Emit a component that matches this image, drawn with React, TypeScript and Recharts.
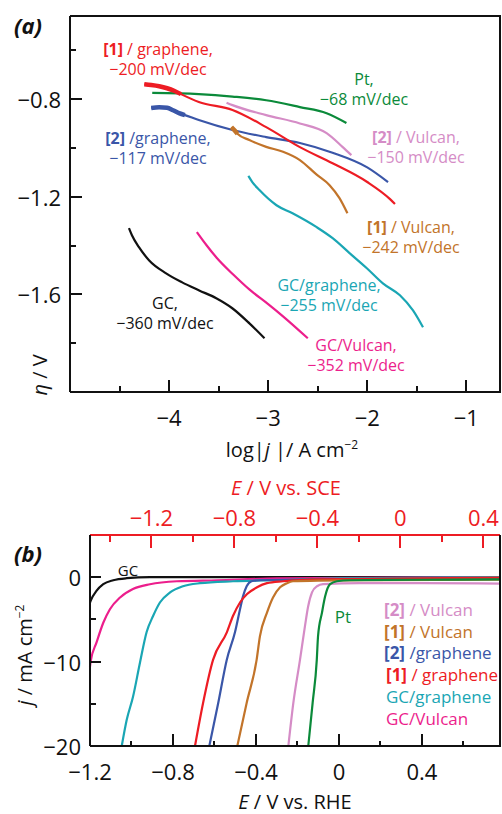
import React from 'react';
import { LineChart, Line, XAxis, YAxis } from 'recharts';

// (a) Tafel plots: [log|j|, eta]
const tafelGraphene1 = [
  [-4.25, -0.74], [-4.18, -0.743], [-4.1, -0.748], [-4.02, -0.756], [-3.95, -0.766], [-3.88, -0.78],
  [-3.7, -0.812], [-3.36, -0.845], [-3.02, -0.915], [-2.68, -0.997], [-2.35, -1.063], [-2.0, -1.14],
  [-1.77, -1.21], [-1.72, -1.23],
];
const tafelPt = [
  [-4.17, -0.775], [-3.7, -0.78], [-3.36, -0.79], [-3.02, -0.805], [-2.68, -0.833], [-2.41, -0.858],
  [-2.21, -0.898],
];
const tafelGraphene2 = [
  [-4.18, -0.837], [-4.1, -0.834], [-4.02, -0.836], [-3.96, -0.846], [-3.9, -0.858], [-3.84, -0.866],
  [-3.7, -0.886], [-3.36, -0.927], [-3.02, -0.956], [-2.68, -0.98], [-2.35, -1.02], [-2.0, -1.08],
  [-1.79, -1.14],
];
const tafelVulcan2 = [
  [-3.42, -0.815], [-3.36, -0.825], [-3.02, -0.866], [-2.68, -0.9], [-2.41, -0.94], [-2.25, -0.996],
  [-2.16, -1.03],
];
const tafelVulcan1 = [
  [-3.37, -0.915], [-3.34, -0.928], [-3.31, -0.942], [-3.19, -0.968], [-3.02, -0.996],
  [-2.85, -1.016], [-2.68, -1.05], [-2.51, -1.11], [-2.38, -1.153], [-2.28, -1.206], [-2.2, -1.268],
];
const tafelGCGraphene = [
  [-3.2, -1.115], [-3.16, -1.14], [-3.088, -1.173], [-2.916, -1.235], [-2.754, -1.268], [-2.51, -1.325],
  [-2.349, -1.37], [-2.176, -1.432], [-2.004, -1.493], [-1.842, -1.555], [-1.67, -1.604], [-1.538, -1.666],
  [-1.437, -1.735],
];
const tafelGC = [
  [-4.405, -1.329], [-4.375, -1.358], [-4.304, -1.407], [-4.203, -1.46], [-4.03, -1.514], [-3.868, -1.551],
  [-3.696, -1.584], [-3.524, -1.616], [-3.362, -1.657], [-3.189, -1.719], [-3.037, -1.78],
];
const tafelGCVulcan = [
  [-3.72, -1.345], [-3.62, -1.4], [-3.52, -1.45], [-3.35, -1.52], [-3.19, -1.58], [-3.0, -1.64],
  [-2.85, -1.69], [-2.6, -1.78],
];

// (b) polarization curves: [E vs RHE, j]
const lsvGC = [
  [-1.2, -3.0], [-1.197, -2.8], [-1.168, -1.6], [-1.136, -0.83], [-1.088, -0.36], [-1.023, -0.12],
  [-0.911, 0], [0.776, 0],
];
const lsvGCVulcan = [
  [-1.2, -10.6], [-1.197, -10], [-1.168, -7.7], [-1.136, -5.4], [-1.104, -3.8], [-1.055, -2.4],
  [-0.993, -1.4], [-0.911, -0.83], [-0.781, -0.48], [-0.588, -0.36], [-0.3, -0.15], [0.776, 0],
];
const lsvGCGraphene = [
  [-1.047, -20], [-1.023, -16.9], [-0.993, -14.2], [-0.959, -10.1], [-0.927, -6.5], [-0.896, -4.6],
  [-0.863, -3.0], [-0.814, -1.8], [-0.752, -1.07], [-0.67, -0.71], [-0.511, -0.48], [-0.3, -0.35],
  [0, -0.15], [0.776, 0],
];
const lsvGraphene1 = [
  [-0.694, -20], [-0.655, -14.9], [-0.607, -9.8], [-0.54, -6.5], [-0.511, -4.6], [-0.477, -3.0],
  [-0.443, -2.0], [-0.395, -1.2], [-0.347, -0.71], [-0.27, -0.48], [-0.1, -0.25], [0.776, -0.05],
];
const lsvGraphene2 = [
  [-0.625, -20], [-0.582, -14.9], [-0.541, -9.8], [-0.501, -6.5], [-0.477, -3.8], [-0.463, -2.3],
  [-0.445, -1.07], [-0.421, -0.48], [-0.381, -0.36], [-0.1, -0.25], [0.776, -0.1],
];
const lsvVulcan1 = [
  [-0.49, -20], [-0.445, -14.9], [-0.397, -9.8], [-0.381, -7.0], [-0.347, -4.2], [-0.318, -2.4],
  [-0.284, -1.2], [-0.251, -0.71], [-0.222, -0.48], [-0.1, -0.4], [0.2, -0.35], [0.776, -0.3],
];
const lsvVulcan2 = [
  [-0.244, -20], [-0.22, -14.9], [-0.188, -9.8], [-0.164, -5.8], [-0.149, -3.5], [-0.13, -1.8],
  [-0.106, -1.07], [-0.077, -0.83], [0.1, -0.7], [0.4, -0.7], [0.776, -0.75],
];
const lsvPt = [
  [-0.148, -20], [-0.127, -14.9], [-0.107, -9.8], [-0.101, -7.0], [-0.082, -4.2], [-0.067, -2.3],
  [-0.043, -0.83], [-0.01, -0.48], [0.053, -0.36], [0.4, -0.3], [0.776, -0.25],
];

const tafelXTicks = [-4.5, -4, -3.5, -3, -2.5, -2, -1.5, -1];
const tafelYTicks = [-0.6, -0.8, -1.0, -1.2, -1.4, -1.6, -1.8];
const rheTicks = [-1.0, -0.8, -0.6, -0.4, -0.2, 0, 0.2, 0.4, 0.6];
const rheLabels = [-1.2, -1.0, -0.8, -0.6, -0.4, -0.2, 0, 0.2, 0.4, 0.6];
const sceTicks = [-1.4, -1.2, -1.0, -0.8, -0.6, -0.4, -0.2, 0, 0.2, 0.4];
const jTicks = [0, -5, -10, -15, -20];
const rheToSce = 0.296;

const tafelX: [number, number] = [-5, -0.66];
const tafelY: [number, number] = [-2.0, -0.46];
const lsvX: [number, number] = [-1.2, 0.776];
const sceX: [number, number] = [lsvX[0] - rheToSce, lsvX[1] - rheToSce];
const lsvY: [number, number] = [-20, 5];

const C = {
  red: '#ed1c24',
  green: '#0b8a3a',
  blue: '#3a56a8',
  lilac: '#d58cc6',
  orange: '#c2742a',
  cyan: '#1aa6b4',
  black: '#111',
  magenta: '#ec1e8c',
};
const FONT = '"Open Sans", sans-serif';

const pts = (a: number[][]) => a.map(([x, y]) => ({ x, y }));
const isMajor = (v: number, step: number) => Math.abs(v / step - Math.round(v / step)) < 1e-6;
const fmt = (v: number) => {
  const r = Math.round(v * 100) / 100;
  if (r === 0) return '0';
  return (r < 0 ? '\u2212' : '') + String(Math.abs(r));
};

// tick labels only
const bottomLabel = (step: number, color: string) => (props: any) => {
  const { x, y, payload } = props;
  if (!isMajor(payload.value, step)) return <g />;
  return (
    <text x={x} y={y + 25} textAnchor="middle" dominantBaseline="central" fontSize={22} fontFamily={FONT} fill={color}>
      {fmt(payload.value)}
    </text>
  );
};
const topLabel = (step: number, color: string) => (props: any) => {
  const { x, y, payload } = props;
  if (!isMajor(payload.value, step)) return <g />;
  return (
    <text x={x} y={y - 18} textAnchor="middle" dominantBaseline="central" fontSize={22} fontFamily={FONT} fill={color}>
      {fmt(payload.value)}
    </text>
  );
};
const leftLabel = (step: number, color: string) => (props: any) => {
  const { x, y, payload } = props;
  if (!isMajor(payload.value, step)) return <g />;
  return (
    <text x={x - 9} y={y} textAnchor="end" dominantBaseline="central" fontSize={22} fontFamily={FONT} fill={color}>
      {fmt(payload.value)}
    </text>
  );
};

const tafelBottom = bottomLabel(1, '#111');
const tafelLeft = leftLabel(0.4, '#111');
const lsvBottom = bottomLabel(0.4, '#111');
const lsvTop = topLabel(0.4, C.red);
const lsvLeft = leftLabel(10, '#111');
const blackAxis = { stroke: '#111', strokeWidth: 2 };
const redAxis = { stroke: C.red, strokeWidth: 2 };

// plot boxes on the page (chart size minus axes and margins)
const A = { left: 70, right: 500, top: 16, bottom: 392 };
const Bx = { left: 90, right: 500, top: 535, bottom: 746 };
const lin = (d: [number, number], p0: number, p1: number) => (v: number) => p0 + ((v - d[0]) / (d[1] - d[0])) * (p1 - p0);
const ax = lin(tafelX, A.left, A.right);
const ay = lin(tafelY, A.bottom, A.top);
const bx = lin(lsvX, Bx.left, Bx.right);
const sx = lin(sceX, Bx.left, Bx.right);
const by = lin(lsvY, Bx.bottom, Bx.top);

// inward tick marks and the frame sides, as thin boxes over the charts
const Bar = ({ l, t, w, h, c = '#111' }: { l: number; t: number; w: number; h: number; c?: string }) => (
  <div style={{ position: 'absolute', left: Math.round(l), top: Math.round(t), width: w, height: h, background: c, pointerEvents: 'none' }} />
);

const Note = ({ cx, cy, color, lines, size = 16 }: { cx: number; cy: number; color: string; lines: React.ReactNode[]; size?: number }) => (
  <div
    style={{
      position: 'absolute', left: cx - 110, top: cy - 10, width: 220, textAlign: 'center',
      color, fontSize: size, lineHeight: '20px', fontFamily: FONT, whiteSpace: 'nowrap', pointerEvents: 'none',
    }}
  >
    {lines.map((l, i) => <div key={i}>{l}</div>)}
  </div>
);

const Label = ({ x, y, color, children, size = 17, anchor = 'left' }: any) => (
  <div
    style={{
      position: 'absolute', left: anchor === 'left' ? x : x - 150, top: y - 11, width: anchor === 'left' ? 'auto' : 300,
      textAlign: anchor === 'left' ? 'left' : 'center', color, fontSize: size, lineHeight: '22px',
      fontFamily: FONT, whiteSpace: 'nowrap', pointerEvents: 'none',
    }}
  >
    {children}
  </div>
);

const Rot = ({ cx, cy, children, size = 20 }: any) => (
  <div
    style={{
      position: 'absolute', left: cx - 100, top: cy - 14, width: 200, height: 28, lineHeight: '28px',
      textAlign: 'center', transform: 'rotate(-90deg)', fontSize: size, fontFamily: FONT, color: '#111',
      whiteSpace: 'nowrap', pointerEvents: 'none',
    }}
  >
    {children}
  </div>
);

const B = ({ children }: any) => <b>{children}</b>;
const sup = (s: string) => <span style={{ fontSize: '0.6em', verticalAlign: '0.7em' }}>{s}</span>;

// noisy starts of some Tafel curves are drawn thicker
const tafelSeries = [
  { data: pts(tafelPt), color: C.green, noisy: 0 },
  { data: pts(tafelVulcan2), color: C.lilac, noisy: 0 },
  { data: pts(tafelGraphene2), color: C.blue, noisy: 6 },
  { data: pts(tafelVulcan1), color: C.orange, noisy: 3 },
  { data: pts(tafelGraphene1), color: C.red, noisy: 6 },
  { data: pts(tafelGCGraphene), color: C.cyan, noisy: 0 },
  { data: pts(tafelGC), color: C.black, noisy: 0 },
  { data: pts(tafelGCVulcan), color: C.magenta, noisy: 0 },
];
const tafelNoisy = tafelSeries.filter((s) => s.noisy > 0).map((s) => ({ color: s.color, data: s.data.slice(0, s.noisy) }));

const lsvSeries = [
  { data: pts(lsvGC), color: C.black },
  { data: pts(lsvGCVulcan), color: C.magenta },
  { data: pts(lsvGCGraphene), color: C.cyan },
  { data: pts(lsvGraphene2), color: C.blue },
  { data: pts(lsvGraphene1), color: C.red },
  { data: pts(lsvVulcan1), color: C.orange },
  { data: pts(lsvVulcan2), color: C.lilac },
  { data: pts(lsvPt), color: C.green },
];
// Pt curve on the SCE scale, not drawn: it gives the top axis its ticks
const lsvPtSce = lsvPt.map(([x, y]) => ({ x: x - rheToSce, y }));

export default function App() {
  return (
    <div style={{ position: 'absolute', left: 0, top: 0, width: 502, height: 814, background: '#fff' }}>
      <div style={{ position: 'absolute', left: 0, top: 0 }}>
        <LineChart width={502} height={460} margin={{ top: 16, right: 2, left: 0, bottom: 0 }}>
          <XAxis
            xAxisId="b" type="number" dataKey="x" domain={tafelX}
            ticks={tafelXTicks} interval={0} tickSize={0} tickMargin={0} height={68}
            tick={tafelBottom} tickLine={false} axisLine={blackAxis}
          />
          <YAxis
            yAxisId="l" type="number" domain={tafelY}
            ticks={tafelYTicks} interval={0} tickSize={0} tickMargin={0} width={70}
            tick={tafelLeft} tickLine={false} axisLine={blackAxis}
          />
          {tafelSeries.map((s, i) => (
            <Line
              key={i} xAxisId="b" yAxisId="l" data={s.data} dataKey="y" type="monotone"
              stroke={s.color} strokeWidth={2.2} dot={false} isAnimationActive={false}
            />
          ))}
          {tafelNoisy.map((s, i) => (
            <Line
              key={'n' + i} xAxisId="b" yAxisId="l" data={s.data} dataKey="y" type="monotone"
              stroke={s.color} strokeWidth={4.5} dot={false} isAnimationActive={false}
            />
          ))}
        </LineChart>
      </div>

      <div style={{ position: 'absolute', left: 0, top: 460 }}>
        <LineChart width={502} height={354} margin={{ top: 0, right: 2, left: 0, bottom: 0 }}>
          <XAxis
            xAxisId="b" type="number" dataKey="x" domain={lsvX}
            ticks={rheLabels} interval={0} tickSize={0} tickMargin={0} height={68}
            tick={lsvBottom} tickLine={false} axisLine={blackAxis}
          />
          <XAxis
            xAxisId="t" orientation="top" type="number" dataKey="x" domain={sceX}
            ticks={sceTicks} interval={0} tickSize={0} tickMargin={0} height={75}
            tick={lsvTop} tickLine={false} axisLine={redAxis}
          />
          <YAxis
            yAxisId="l" type="number" domain={lsvY}
            ticks={jTicks} interval={0} tickSize={0} tickMargin={0} width={90}
            tick={lsvLeft} tickLine={false} axisLine={blackAxis}
          />
          <Line xAxisId="t" yAxisId="l" data={lsvPtSce} dataKey="y" stroke="none" dot={false} isAnimationActive={false} />
          {lsvSeries.map((s, i) => (
            <Line
              key={i} xAxisId="b" yAxisId="l" data={s.data} dataKey="y" type="monotone"
              stroke={s.color} strokeWidth={2.2} dot={false} isAnimationActive={false}
            />
          ))}
        </LineChart>
      </div>

      {/* frames and inward ticks */}
      <Bar l={A.left} t={A.top - 1} w={A.right - A.left + 1} h={2} />
      <Bar l={A.right - 1} t={A.top - 1} w={2} h={A.bottom - A.top + 2} />
      {tafelXTicks.map((t) => {
        const len = isMajor(t, 1) ? 12 : 6;
        return <Bar key={'ax' + t} l={ax(t) - 1} t={A.bottom - len} w={2} h={len} />;
      })}
      {tafelYTicks.map((t) => {
        const len = isMajor(t, 0.4) ? 12 : 6;
        return <Bar key={'ay' + t} l={A.left} t={ay(t) - 1} w={len} h={2} />;
      })}
      <Bar l={Bx.right - 1} t={Bx.top} w={2} h={Bx.bottom - Bx.top + 1} />
      {rheTicks.map((t) => {
        const len = isMajor(t, 0.4) ? 12 : 5;
        return <Bar key={'bx' + t} l={bx(t) - 1} t={Bx.bottom - len} w={2} h={len} />;
      })}
      {sceTicks.map((t) => {
        const len = isMajor(t, 0.4) ? 13 : 7;
        return <Bar key={'sx' + t} l={sx(t) - 1} t={Bx.top} w={2} h={len} c={C.red} />;
      })}
      {jTicks.filter((t) => t !== lsvY[0]).map((t) => {
        const len = isMajor(t, 10) ? 11 : 6;
        return <Bar key={'by' + t} l={Bx.left} t={by(t) - 1} w={len} h={2} />;
      })}

      {/* panel (a) text */}
      <div style={{ position: 'absolute', left: 14, top: 10, fontSize: 22, fontWeight: 'bold', fontStyle: 'italic', fontFamily: FONT, color: '#111' }}>(a)</div>
      <Note cx={158} cy={49} color={C.red} lines={[<><B>[1]</B> / graphene,</>, '\u2212200 mV/dec']} />
      <Note cx={364} cy={79} color={C.green} lines={['Pt,', '\u221268 mV/dec']} />
      <Note cx={158} cy={138} color={C.blue} lines={[<><B>[2]</B> /graphene,</>, '\u2212117 mV/dec']} />
      <Note cx={416} cy={137} color={C.lilac} lines={[<><B>[2]</B> / Vulcan,</>, '\u2212150 mV/dec']} />
      <Note cx={411} cy={227} color={C.orange} lines={[<><B>[1]</B> / Vulcan,</>, '\u2212242 mV/dec']} />
      <Note cx={329} cy={285} color={C.cyan} lines={['GC/graphene,', '\u2212255 mV/dec']} />
      <Note cx={165} cy={303} color={C.black} lines={['GC,', '\u2212360 mV/dec']} />
      <Note cx={356} cy={345} color={C.magenta} lines={['GC/Vulcan,', '\u2212352 mV/dec']} />
      <Rot cx={40} cy={375}><i>η</i> / V</Rot>
      <Label x={292} y={445} color="#111" size={20} anchor="center">log|<i>j</i> |/ A cm{sup('\u22122')}</Label>

      {/* panel (b) text */}
      <Label x={286} y={488} color={C.red} size={20} anchor="center"><i>E</i> / V vs. SCE</Label>
      <div style={{ position: 'absolute', left: 14, top: 538, fontSize: 22, fontWeight: 'bold', fontStyle: 'italic', fontFamily: FONT, color: '#111' }}>(b)</div>
      <Label x={128} y={570} color={C.black} size={15} anchor="center">GC</Label>
      <Label x={343} y={617} color={C.green} size={17} anchor="center">Pt</Label>
      <Label x={384} y={610} color={C.lilac}><B>[2]</B> / Vulcan</Label>
      <Label x={384} y={632} color={C.orange}><B>[1]</B> / Vulcan</Label>
      <Label x={384} y={653} color={C.blue}><B>[2]</B> /graphene</Label>
      <Label x={386} y={675} color={C.red}><B>[1]</B> / graphene</Label>
      <Label x={386} y={697} color={C.cyan}>GC/graphene</Label>
      <Label x={386} y={719} color={C.magenta}>GC/Vulcan</Label>
      <Rot cx={20} cy={655}><i>j</i> / mA cm{sup('\u22122')}</Rot>
      <Label x={295} y={802} color="#111" size={20} anchor="center"><i>E</i> / V vs. RHE</Label>
    </div>
  );
}
